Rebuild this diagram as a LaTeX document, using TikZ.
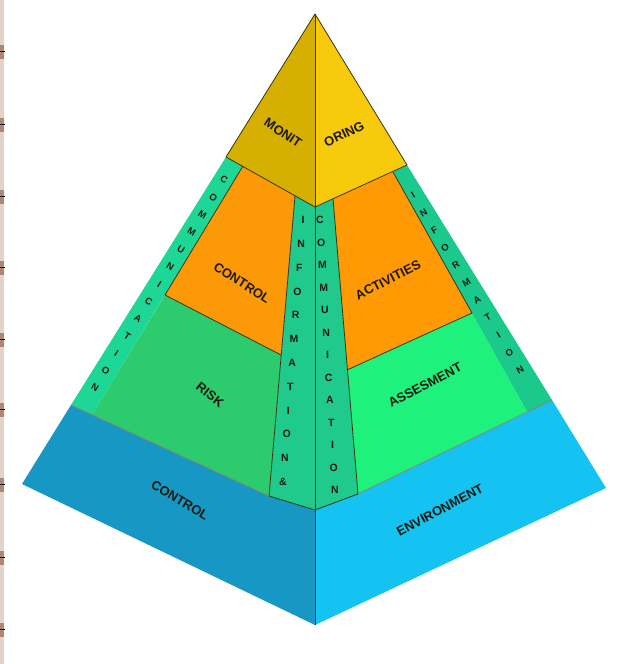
\documentclass[tikz,border=0pt]{standalone}
\usepackage{fontspec}
\setmainfont{Liberation Sans}
\usetikzlibrary{calc}
\definecolor{yellowL}{HTML}{D6B000}
\definecolor{yellowR}{HTML}{F7CA0C}
\definecolor{orangeL}{HTML}{FB9A06}
\definecolor{orangeR}{HTML}{FF9A05}
\definecolor{bandL}{HTML}{1ED696}
\definecolor{bandR}{HTML}{1CC98C}
\definecolor{colc}{HTML}{20C98C}
\definecolor{riskc}{HTML}{2CCB6E}
\definecolor{assc}{HTML}{1EF27C}
\definecolor{blueL}{HTML}{1697C4}
\definecolor{blueR}{HTML}{14C3F2}
\definecolor{edgec}{HTML}{3A3410}
\definecolor{textc}{HTML}{1E1A10}
\definecolor{stripc}{HTML}{9A6A50}
\begin{document}
\begin{tikzpicture}[x=1pt,y=1pt,
  edge/.style={draw=edgec,line width=0.8pt,line join=round},
  lbl/.style={font=\fontsize{13}{13}\selectfont\bfseries,text=textc,inner sep=0pt},
  colch/.style={font=\fontsize{10.5}{10.5}\selectfont\bfseries,text=textc,inner sep=0pt},
  bandch/.style={font=\fontsize{9.5}{9.5}\selectfont\bfseries,text=textc,inner sep=0pt}]
\useasboundingbox (0,0) rectangle (641,664);
\fill[white] (0,0) rectangle (641,664);
% binding strip at the left edge
\fill[stripc!30] (0,0) rectangle (4,664);
\foreach \yy in {612,539,467,396,324,254,179,106,34}
  {\fill[stripc!80] (0,\yy-7) rectangle (4,\yy+7);
   \draw[black,line width=1pt] (0,\yy) -- (5,\yy);}
% key points
\coordinate (A) at (315,650);
\coordinate (L) at (22,180);
\coordinate (R) at (606,176);
\coordinate (B) at (315,39);
\coordinate (YL) at (226,507);
\coordinate (YC) at (315,457);
\coordinate (YR) at (407,499);
\coordinate (CTL) at (295,468);
\coordinate (CTR) at (333,465);
\coordinate (CBL) at (269,168);
\coordinate (CBC) at (315,154);
\coordinate (CBR) at (358,170);
\coordinate (BI1) at (243,498);
\coordinate (OLB) at (165,369);
\coordinate (OLR) at (281,309);
\coordinate (BI2) at (92,249);
\coordinate (BL1) at (71,259);
\coordinate (OR1) at (393,492);
\coordinate (ORB) at (472,351);
\coordinate (ORL) at (347,294);
\coordinate (BRI) at (527,252);
\coordinate (BR1) at (552,264);
% base (control environment)
\fill[blueL] (BL1) -- (L) -- (B) -- (CBC) -- (CBL) -- cycle;
\fill[blueR] (CBC) -- (B) -- (R) -- (BR1) -- (CBR) -- cycle;
% side bands
\fill[bandL] (YL) -- (BI1) -- (BI2) -- (BL1) -- cycle;
\fill[bandR] (YR) -- (OR1) -- (BRI) -- (BR1) -- cycle;
% risk assessment
\fill[riskc] (OLB) -- (OLR) -- (CBL) -- (BI2) -- cycle;
\fill[assc] (ORL) -- (ORB) -- (BRI) -- (CBR) -- cycle;
% control activities
\fill[orangeL] (BI1) -- (CTL) -- (OLR) -- (OLB) -- cycle;
\fill[orangeR] (CTR) -- (OR1) -- (ORB) -- (ORL) -- cycle;
% centre column
\fill[colc] (CTL) -- (YC) -- (CBC) -- (CBL) -- cycle;
\fill[colc] (YC) -- (CTR) -- (CBR) -- (CBC) -- cycle;
% monitoring
\fill[yellowL] (A) -- (YL) -- (YC) -- cycle;
\fill[yellowR] (A) -- (YC) -- (YR) -- cycle;
% outlines
\draw[edge] (YL) -- (A) -- (YR);
\draw[edge] (YL) -- (YC) -- (YR);
\draw[edge] (A) -- (B);
\draw[edge] (BI1) -- (OLB) -- (OLR);
\draw[edge] (OR1) -- (ORB) -- (ORL);
\draw[edge] (CTL) -- (CBL) -- (CBC) -- (CBR) -- (CTR);
\draw[edge,draw=edgec!60] (BL1) -- (CBL);
\draw[edge,draw=edgec!60] (CBR) -- (BR1);
% labels
\node[lbl,rotate=-34] (monit) at (283,531) {MONIT};
\node[lbl,rotate=25] (oring) at (344,530) {ORING};
\node[lbl,rotate=-33] (control) at (242,381) {CONTROL};
\node[lbl,rotate=27] (activities) at (388,384) {ACTIVITIES};
\node[lbl,rotate=-38] (risk) at (210,269) {RISK};
\node[lbl,rotate=28] (assesment) at (425,279) {ASSESMENT};
\node[lbl,rotate=-31] (control2) at (180,164) {CONTROL};
\node[lbl,rotate=28] (environment) at (440,154) {ENVIRONMENT};
% centre column letters
\foreach \c [count=\i from 0] in {I,N,F,O,R,M,A,T,I,O,N,\&}
  \node[colch] (cl\i) at ($(303,444)!\i/11!(283,182)$) {\c};
\foreach \c [count=\i from 0] in {C,O,M,M,U,N,I,C,A,T,I,O,N}
  \node[colch] (cr\i) at ($(320,444)!\i/12!(335,174)$) {\c};
% side band letters
\foreach \c [count=\i from 0] in {C,O,M,M,U,N,I,C,A,T,I,O,N}
  \node[bandch,rotate=-31.6] (bl\i) at ($(224,484)!\i/12!(95,276)$) {\c};
\foreach \c [count=\i from 0] in {I,N,F,O,R,M,A,T,I,O,N}
  \node[bandch,rotate=31.4] (br\i) at ($(413,469)!\i/10!(520,294)$) {\c};
\end{tikzpicture}
\end{document}
